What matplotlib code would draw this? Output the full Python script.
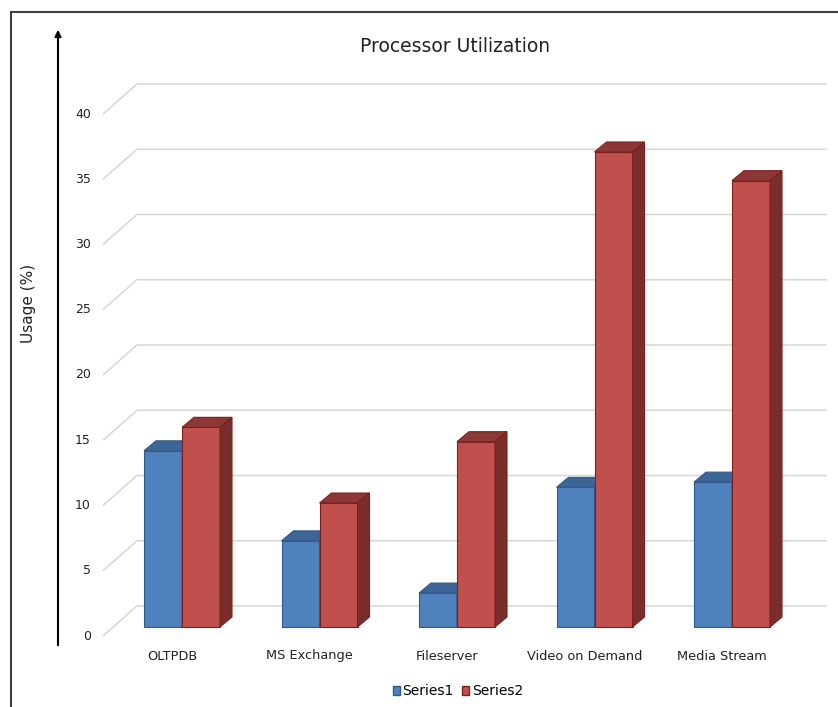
import matplotlib
matplotlib.use('Agg')
import matplotlib.pyplot as plt
from matplotlib.patches import Polygon, Patch
from matplotlib.lines import Line2D

#---------Data
categories = ['OLTPDB', 'MS Exchange', 'Fileserver', 'Video on Demand', 'Media Stream']
series1 = [13.5, 6.6, 2.6, 10.7, 11.1]
series2 = [15.3, 9.5, 14.2, 36.4, 34.2]
y_ticks = [0, 5, 10, 15, 20, 25, 30, 35, 40]

#---------Look
W, H = 838, 707
PX_X = 1 / 137.5     # category units per pixel
PX_Y = 1 / 13.05     # value units per pixel
bar_w = 38 * PX_X
bar_dx, bar_dy = 12 * PX_X, 10 * PX_Y          # bar depth
front_dx, front_dy = -79 * PX_X, -9 * PX_Y     # front edge of the wall floor
back_dx, back_dy = -45 * PX_X, 21 * PX_Y       # back wall start
wall_right = 4.69

blue = dict(front='#4F81BD', top='#3C6598', side='#385D8A', edge='#2F5A8C')
red = dict(front='#C0504D', top='#8C3836', side='#7A2E2C', edge='#7F1F1D')

fig = plt.figure(figsize=(W / 100, H / 100), dpi=100)
ax = fig.add_axes([0, 0, 1, 1])
ax.set_xlim(-182 * PX_X, (W - 182) * PX_X)
ax.set_ylim(-(H - 627) * PX_Y, 627 * PX_Y)
ax.axis('off')

# gridlines: short diagonal on the side, then along the back wall
for v in y_ticks:
    ax.plot([front_dx, back_dx, wall_right], [v + front_dy, v + back_dy, v + back_dy],
            color='#D6D6D6', lw=1.1, zorder=1, solid_capstyle='butt')
    ax.text(front_dx - 12 * PX_X, v + front_dy, str(v), ha='right', va='center',
            fontsize=9, color='#222222')


def draw_bars(xs, vals, c, label):
    ax.bar(xs, vals, width=bar_w, align='edge', color=c['front'], edgecolor=c['edge'],
           lw=0.8, zorder=3, label=label)
    for x, h in zip(xs, vals):
        top = [(x, h), (x + bar_dx, h + bar_dy), (x + bar_w + bar_dx, h + bar_dy), (x + bar_w, h)]
        side = [(x + bar_w, 0), (x + bar_w + bar_dx, bar_dy), (x + bar_w + bar_dx, h + bar_dy), (x + bar_w, h)]
        ax.add_patch(Polygon(top, closed=True, fc=c['top'], ec=c['edge'], lw=0.8, zorder=3))
        ax.add_patch(Polygon(side, closed=True, fc=c['side'], ec=c['edge'], lw=0.8, zorder=3))


idx = list(range(len(categories)))
draw_bars([i - bar_w for i in idx], series1, blue, 'Series1')
draw_bars(idx, series2, red, 'Series2')

# category labels sit a bit to the front-left
for i, name in zip(idx, categories):
    ax.text(i - 10 * PX_X, -29 * PX_Y, name, ha='center', va='center', fontsize=9.3,
            color='#222222')

# vertical arrow and axis title
ax.annotate('', xy=(-124 * PX_X, 600 * PX_Y), xytext=(-124 * PX_X, -21 * PX_Y),
            arrowprops=dict(arrowstyle='-|>', color='black', lw=1.5, mutation_scale=9))
fig.text(28 / W, 1 - 303 / H, 'Usage (%)', rotation=90, ha='center', va='center',
         fontsize=11, color='#222222')

fig.text(455 / W, 1 - 47 / H, 'Processor Utilization', ha='center', va='center',
         fontsize=13.5, color='#222222')

handles = [Patch(fc=blue['front'], ec=blue['edge']), Patch(fc=red['front'], ec=red['edge'])]
fig.legend(handles, ['Series1', 'Series2'], loc='center', ncol=2, frameon=False,
           bbox_to_anchor=(458 / W, 16 / H), fontsize=10, handlelength=0.5, handleheight=0.6,
           handletextpad=0.2, columnspacing=0.6)

# outer frame (left and top edge only show)
fig.add_artist(Line2D([11 / W, 11 / W], [0, 1 - 12 / H], color='#404040', lw=1.5))
fig.add_artist(Line2D([11 / W, 1], [1 - 12 / H, 1 - 12 / H], color='#404040', lw=1.5))

fig.savefig('out.png', dpi=100)
